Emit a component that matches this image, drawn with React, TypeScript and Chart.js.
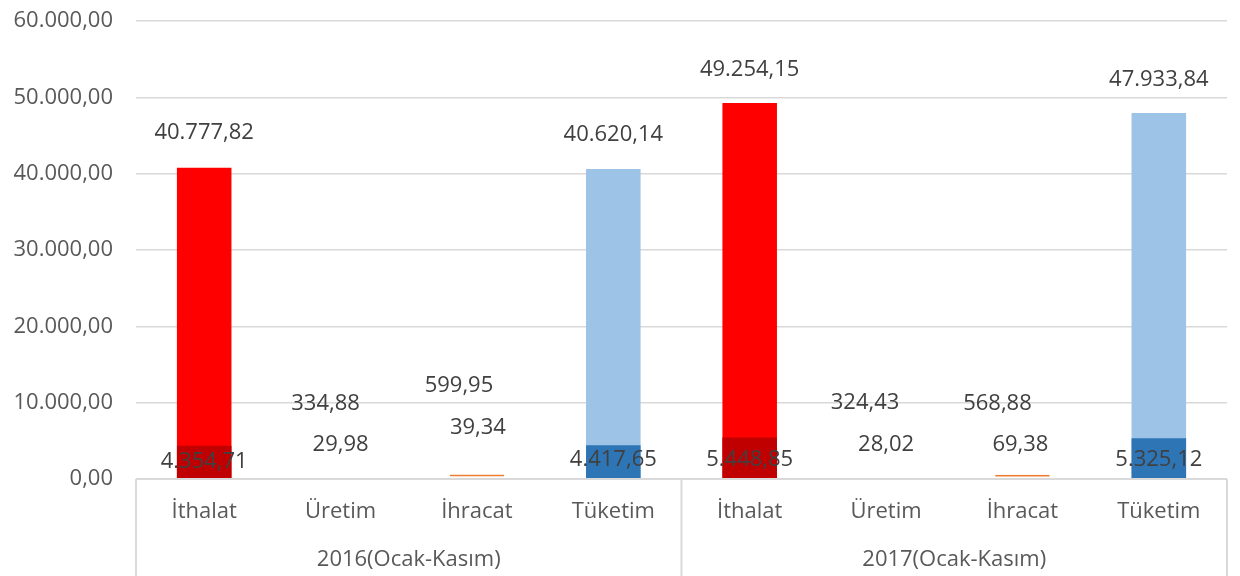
import React, { useEffect, useRef } from "react";
import { Chart, registerables } from "chart.js";

Chart.register(...registerables);

// ---- data ----
const categories = ["İthalat", "Üretim", "İhracat", "Tüketim", "İthalat", "Üretim", "İhracat", "Tüketim"];
const groups = ["2016(Ocak-Kasım)", "2017(Ocak-Kasım)"];
const groupSize = 4;
const totalValues = [40777.82, 334.88, 599.95, 40620.14, 49254.15, 324.43, 568.88, 47933.84];
const smallValues = [4354.71, 29.98, 39.34, 4417.65, 5448.85, 28.02, 69.38, 5325.12];
const yTicksMax = 60000;
const yTicksStep = 10000;

// ---- styles ----
const FONT = "'Open Sans', 'Noto Sans', sans-serif";
const AXIS_COLOR = "#595959";
const LABEL_COLOR = "#404040";
const LINE_COLOR = "#d9d9d9";
const bigColors = ["#FF0000", "rgba(0,0,0,0)", "rgba(0,0,0,0)", "#9DC3E6", "#FF0000", "rgba(0,0,0,0)", "rgba(0,0,0,0)", "#9DC3E6"];
const smallColors = ["#C00000", "rgba(0,0,0,0)", "rgba(0,0,0,0)", "#2E75B6", "#C00000", "rgba(0,0,0,0)", "rgba(0,0,0,0)", "#2E75B6"];
// label offsets [dx, dy] in px: big labels relative to bar top, small labels relative to base
const bigLabelOffsets = [[0, -35], [-15, -73], [-18, -89], [0, -34], [0, -33], [-21, -74], [-25, -71], [0, -33]];
const smallLabelOffsets = [[0, -17], [0, -34], [1, -51], [0, -19], [0, -19], [0, -34], [-2, -34], [0, -19]];

function formatTR(v: number): string {
  const [i, d] = v.toFixed(2).split(".");
  return i.replace(/\B(?=(\d{3})+(?!\d))/g, ".") + "," + d;
}

const labelPlugin = {
  id: "valueLabels",
  afterDatasetsDraw(chart: any) {
    const ctx = chart.ctx;
    const yScale = chart.scales.y;
    const base = yScale.getPixelForValue(0);
    ctx.save();
    ctx.font = `22px ${FONT}`;
    ctx.fillStyle = LABEL_COLOR;
    ctx.textAlign = "center";
    ctx.textBaseline = "middle";
    chart.data.datasets.forEach((ds: any, di: number) => {
      const meta = chart.getDatasetMeta(di);
      meta.data.forEach((bar: any, i: number) => {
        const v = ds.data[i];
        if (di === 0) {
          const [dx, dy] = bigLabelOffsets[i];
          ctx.fillText(formatTR(v), bar.x + dx, bar.y + dy);
        } else {
          const [dx, dy] = smallLabelOffsets[i];
          ctx.fillText(formatTR(v), bar.x + dx, base + dy);
        }
      });
    });
    ctx.restore();
  },
};

const axisPlugin = {
  id: "multiLevelAxis",
  afterDraw(chart: any) {
    const ctx = chart.ctx;
    const area = chart.chartArea;
    const x = chart.scales.x;
    const bottom = chart.height;
    ctx.save();
    ctx.strokeStyle = LINE_COLOR;
    ctx.lineWidth = 2;
    ctx.beginPath();
    ctx.moveTo(area.left, area.bottom);
    ctx.lineTo(area.right, area.bottom);
    ctx.moveTo(area.left, area.bottom);
    ctx.lineTo(area.left, bottom);
    ctx.moveTo(area.right, area.bottom);
    ctx.lineTo(area.right, bottom);
    for (let g = 1; g < groups.length; g++) {
      const xb = (x.getPixelForTick(g * groupSize - 1) + x.getPixelForTick(g * groupSize)) / 2;
      ctx.moveTo(xb, area.bottom);
      ctx.lineTo(xb, bottom);
    }
    ctx.stroke();
    ctx.font = `22px ${FONT}`;
    ctx.fillStyle = AXIS_COLOR;
    ctx.textAlign = "center";
    ctx.textBaseline = "middle";
    groups.forEach((name, g) => {
      const cx = (x.getPixelForTick(g * groupSize) + x.getPixelForTick(g * groupSize + groupSize - 1)) / 2;
      ctx.fillText(name, cx, 560);
    });
    ctx.restore();
  },
};

export default function App() {
  const ref = useRef<HTMLCanvasElement>(null);
  useEffect(() => {
    document.body.style.margin = "0";
    const canvas = ref.current!;
    const chart = new Chart(canvas, {
      type: "bar",
      data: {
        labels: categories,
        datasets: [
          {
            label: "Ocak-Kasım",
            data: totalValues,
            backgroundColor: bigColors,
            borderColor: "#ED7D31",
            borderWidth: (c: any) => (c.dataIndex % groupSize === 2 ? { top: 2, left: 0, right: 0, bottom: 0 } : 0),
            borderSkipped: "start",
            order: 1,
            barPercentage: 0.4,
            categoryPercentage: 1,
          },
          {
            label: "Kasım",
            data: smallValues,
            backgroundColor: smallColors,
            borderWidth: 0,
            order: 0,
            barPercentage: 0.4,
            categoryPercentage: 1,
          },
        ],
      },
      options: {
        responsive: false,
        animation: false,
        layout: { padding: { top: 21, right: 13, left: 0, bottom: 0 } },
        plugins: { legend: { display: false }, tooltip: { enabled: false } },
        scales: {
          x: {
            stacked: true,
            grid: { display: false },
            border: { display: false },
            ticks: {
              font: { family: FONT, size: 22 },
              color: AXIS_COLOR,
              padding: 12,
              autoSkip: false,
              maxRotation: 0,
            },
            afterFit: (s: any) => {
              s.height = 97;
              s.paddingLeft = 0;
              s.paddingRight = 0;
            },
          },
          y: {
            stacked: false,
            min: 0,
            max: yTicksMax,
            grid: { color: LINE_COLOR, lineWidth: 1.5, drawTicks: false },
            border: { display: false },
            ticks: {
              stepSize: yTicksStep,
              font: { family: FONT, size: 22 },
              color: AXIS_COLOR,
              padding: 23,
              callback: (v: any) => formatTR(Number(v)),
            },
            afterFit: (s: any) => {
              s.width = 136;
              s.paddingTop = 0;
              s.paddingBottom = 0;
            },
          },
        },
      },
      plugins: [labelPlugin, axisPlugin],
    } as any);
    return () => chart.destroy();
  }, []);
  return <canvas ref={ref} width={1240} height={576} style={{ display: "block" }} />;
}
